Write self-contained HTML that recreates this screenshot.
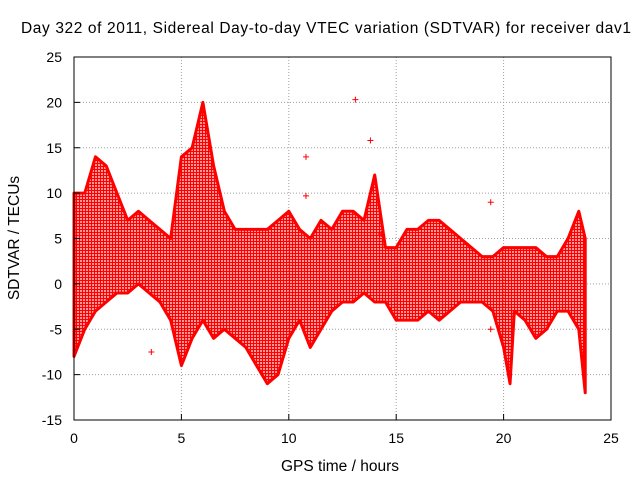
<!DOCTYPE html>
<html><head><meta charset="utf-8"><style>
body{margin:0;background:#fff}
svg{display:block;font-family:"Liberation Sans",sans-serif}
</style></head><body>
<svg id="chart" width="640" height="480">
<defs>
<pattern id="plusPat" width="3" height="3" patternUnits="userSpaceOnUse">
<path d="M0 1.5H3M1.5 0V3" stroke="#ff0000" stroke-width="1.4"/>
</pattern>
</defs>
<rect x="0" y="0" width="640" height="480" fill="#fff"/>
<text x="326" y="33" text-anchor="middle" font-size="15.5" textLength="610" lengthAdjust="spacing">Day 322 of 2011, Sidereal Day-to-day VTEC variation (SDTVAR) for receiver dav1</text>
<g id="grid"></g>
<g id="data"></g>
<rect x="74" y="57" width="537" height="363" fill="none" stroke="#000"/>
<g id="ticks"></g>
<text x="340" y="471" text-anchor="middle" font-size="15.5">GPS time / hours</text>
<text x="19" y="238" text-anchor="middle" font-size="15.5" transform="rotate(-90 19 238)">SDTVAR / TECUs</text>
</svg>
<script>
const xTicks=[0,5,10,15,20,25];
const yTicks=[-15,-10,-5,0,5,10,15,20,25];
const times=[0,0.5,1,1.5,2,2.5,3,3.5,4,4.5,5,5.5,6,6.5,7,7.5,8,8.5,9,9.5,10,10.5,11,11.5,12,12.5,13,13.5,14,14.5,15,15.5,16,16.5,17,17.5,18,18.5,19,19.5,20,20.3,20.5,21,21.5,22,22.5,23,23.5,23.8];
const upper=[10,10,14,13,10,7,8,7,6,5,14,15,20,13,8,6,6,6,6,7,8,6,5,7,6,8,8,7,12,4,4,6,6,7,7,6,5,4,3,3,4,4,4,4,4,3,3,5,8,5];
const lower=[-8,-5,-3,-2,-1,-1,0,-1,-2,-4,-9,-6,-4,-6,-5,-6,-7,-9,-11,-10,-6,-4,-7,-5,-3,-2,-2,-1,-2,-2,-4,-4,-4,-3,-4,-3,-2,-2,-2,-3,-7,-11,-3,-4,-6,-5,-3,-3,-5,-12];
const outX=[3.6,10.8,10.8,13.1,13.8,19.4,19.4,14.3];
const outY=[-7.5,14,9.7,20.3,15.8,9,-5,5.5];
const X=v=>74+v*537/25, Y=v=>420-(v+15)*363/40;
const NS='http://www.w3.org/2000/svg';
const g=document.getElementById('grid'),tk=document.getElementById('ticks'),d=document.getElementById('data');
function mk(tag,at,p){const e=document.createElementNS(NS,tag);for(const k in at)e.setAttribute(k,at[k]);p.appendChild(e);return e;}
xTicks.forEach(v=>{
 if(v>0&&v<25){const l=mk('line',{x1:X(v),x2:X(v),y1:57,y2:420,stroke:'#a0a0a0','stroke-dasharray':'1,2'},g);
 
 }
 const t=mk('text',{x:X(v),y:443,'text-anchor':'middle','font-size':14},tk);t.textContent=v;
 
 
 mk('line',{x1:X(v),x2:X(v),y1:420,y2:414,stroke:'#000'},tk);
});
yTicks.forEach(v=>{
 if(v>-15&&v<25){const l=mk('line',{x1:74,x2:611,y1:Y(v),y2:Y(v),stroke:'#a0a0a0','stroke-dasharray':'1,2'},g);
 
 }
 const t=mk('text',{x:62,y:Y(v)+5,'text-anchor':'end','font-size':14},tk);t.textContent=v;
 
 
 mk('line',{x1:74,x2:80,y1:Y(v),y2:Y(v),stroke:'#000'},tk);
});
let p='M'+X(times[0])+' '+Y(upper[0]);
for(let i=1;i<times.length;i++)p+=' L'+X(times[i])+' '+Y(upper[i]);
for(let i=times.length-1;i>=0;i--)p+=' L'+X(times[i])+' '+Y(lower[i]);
p+='Z';
const env=mk('path',{d:p,fill:'url(#plusPat)',stroke:'#ff0000','stroke-width':3,'stroke-linejoin':'round'},d);


outX.forEach((v,i)=>{
 const m=mk('path',{d:`M${X(v)-3} ${Y(outY[i])}h6M${X(v)} ${Y(outY[i])-3}v6`,stroke:'#ff0000'},d);
 
 
});
</script>
</body></html>
